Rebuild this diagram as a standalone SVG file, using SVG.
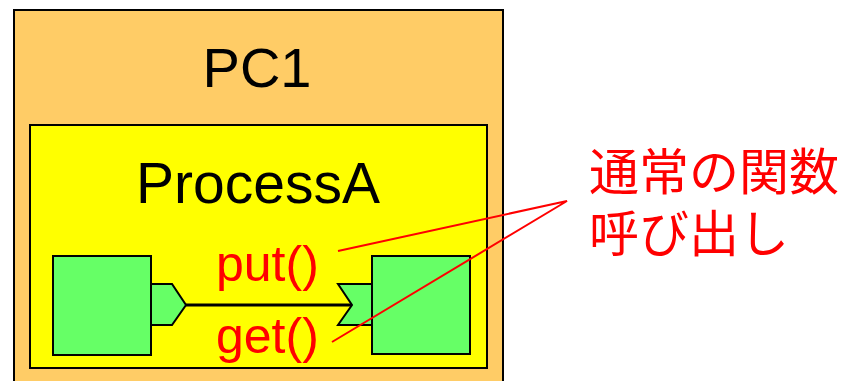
<svg xmlns="http://www.w3.org/2000/svg" width="852" height="381" viewBox="0 0 852 381">
  <style>
    .box { stroke: #000; stroke-width: 2; }
    .pc { fill: #FFCC66; }
    .proc { fill: #FFFF00; }
    .comp { fill: #66FF66; stroke: #000; stroke-width: 2; stroke-linejoin: miter; }
    .title { font-family: "Liberation Sans", Arial, sans-serif; fill: #000; text-anchor: middle; }
    .call { font-family: "Liberation Sans", Arial, sans-serif; font-size: 50px; fill: #FF0000; }
    .note { font-family: "Liberation Sans", "Noto Sans CJK JP", sans-serif; font-size: 50px; fill: #FF0000; }
    .wire { stroke: #000; stroke-width: 3; fill: none; }
    .leader { stroke: #FF0000; stroke-width: 2; fill: none; }
  </style>

  <g id="pc1">
    <rect class="box pc" x="14" y="10" width="489" height="380"/>
    <text class="title" x="257" y="87" font-size="56">PC1</text>
  </g>

  <g id="processA">
    <rect class="box proc" x="30" y="125" width="457" height="243"/>
    <text class="title" x="258" y="203" font-size="57">ProcessA</text>
  </g>

  <g id="component-left">
    <rect class="comp" x="53" y="256" width="98" height="99"/>
    <polygon class="comp" points="151,284 172,284 186,305 172,325 151,325"/>
  </g>

  <g id="component-right">
    <polygon class="comp" points="372,284 338,284 352,305 338,325 372,325"/>
    <rect class="comp" x="372" y="256" width="98" height="98"/>
  </g>

  <g id="connectors">
    <line class="wire" x1="186" y1="305" x2="352" y2="305"/>
    <text class="call" x="216" y="281">put()</text>
    <text class="call" x="216" y="353">get()</text>
    <polyline class="leader" points="338,251 567,201 332,342"/>
  </g>

  <g id="note">
    <text class="note" x="589" y="190">通常の関数</text>
    <text class="note" x="589" y="252">呼び出し</text>
  </g>
</svg>
